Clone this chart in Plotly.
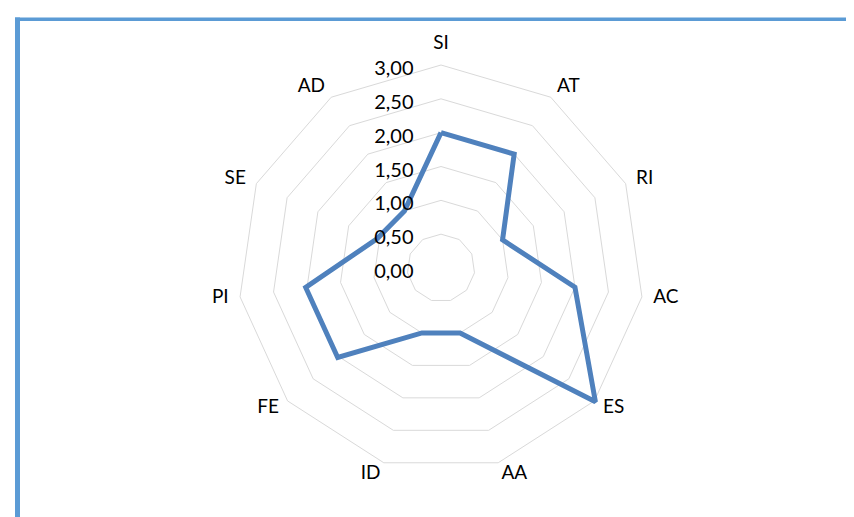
import plotly.graph_objects as go

categories = ["SI", "AT", "RI", "AC", "ES", "AA", "ID", "FE", "PI", "SE", "AD"]
values = [2.0, 2.0, 1.0, 2.0, 3.02, 1.0, 1.0, 2.02, 2.02, 1.04, 1.0]
radial_ticks = [0, 0.5, 1.0, 1.5, 2.0, 2.5, 3.0]

W, H = 854, 517
R_MAX = 3.35          # invisible outer radius giving room for the labels
LABEL_R = 3.17        # radius (data units) of the label anchor points
cx, cy = 433, 260
R = 203 * R_MAX / 3.0  # pixel radius of the whole polar area

# label placement like Excel: to the right on the right half, left on the left half
n = len(categories)
label_pos = []
for i in range(n):
    ang = i * 360.0 / n
    if ang == 0:
        label_pos.append("top center")
    elif ang < 180:
        label_pos.append("middle right")
    else:
        label_pos.append("middle left")

fig = go.Figure()
fig.add_trace(go.Scatterpolar(
    r=values + values[:1],
    theta=categories + categories[:1],
    mode="lines",
    line=dict(color="#4f81bd", width=5),
    hoverinfo="skip",
    showlegend=False,
))
fig.add_trace(go.Scatterpolar(
    r=[LABEL_R] * n,
    theta=categories,
    text=categories,
    mode="text",
    textposition=label_pos,
    textfont=dict(family="Lato, Carlito, sans-serif", size=19, color="#000000"),
    cliponaxis=False,
    hoverinfo="skip",
    showlegend=False,
))

def px_x(x):
    return x / W

def px_y(y):
    return 1 - y / H

fig.update_layout(
    width=W, height=H,
    margin=dict(l=0, r=0, t=0, b=0),
    paper_bgcolor="white",
    plot_bgcolor="white",
    separators=",.",
    font=dict(family="Lato, Carlito, sans-serif", size=19, color="#000000"),
    polar=dict(
        domain=dict(x=[px_x(cx - R), px_x(cx + R)], y=[px_y(cy + R), px_y(cy - R)]),
        gridshape="linear",
        bgcolor="white",
        radialaxis=dict(
            range=[0, R_MAX],
            tickvals=radial_ticks,
            tickformat=".2f",
            angle=90,
            side="counterclockwise",
            showline=False,
            ticks="outside",
            ticklen=9,
            tickcolor="rgba(0,0,0,0)",
            gridcolor="#d9d9d9",
            gridwidth=1.3,
            tickfont=dict(size=20, color="#000000"),
        ),
        angularaxis=dict(
            rotation=90,
            direction="clockwise",
            showgrid=False,
            showline=False,
            ticks="",
            showticklabels=False,
        ),
    ),
    shapes=[
        dict(type="rect", xref="paper", yref="paper",
             x0=px_x(7), x1=1.0, y0=px_y(13), y1=px_y(9.5),
             fillcolor="#5b9bd5", line=dict(width=0), layer="above"),
        dict(type="rect", xref="paper", yref="paper",
             x0=px_x(7), x1=px_x(12), y0=0, y1=px_y(9.5),
             fillcolor="#5b9bd5", line=dict(width=0), layer="above"),
    ],
)

fig.write_html("out.html")
